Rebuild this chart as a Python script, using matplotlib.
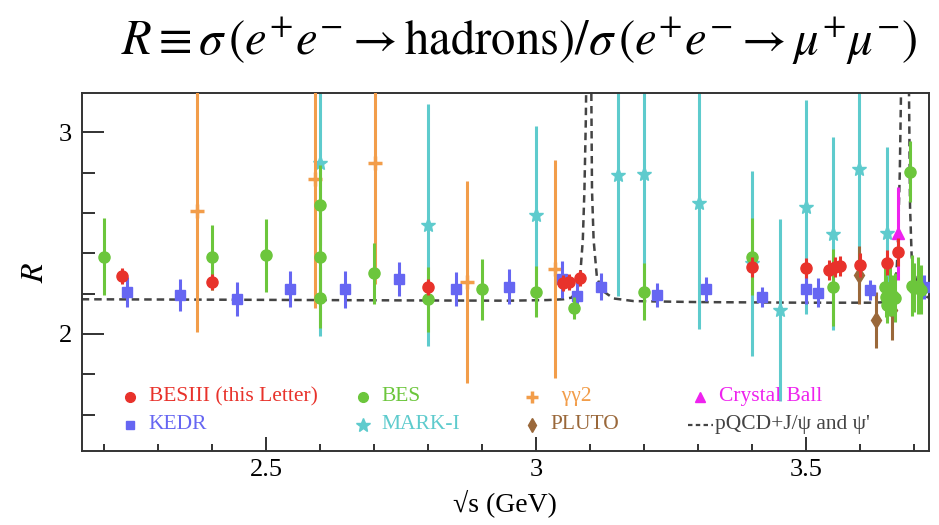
#!/usr/bin/env python3
# -*- coding: utf-8 -*-

import matplotlib
matplotlib.use("Agg")
import matplotlib.pyplot as plt
from matplotlib.ticker import MultipleLocator, FuncFormatter

# ---- data ----
besiii_x = [2.2324, 2.4000, 2.8000, 3.0500, 3.0600, 3.0800, 3.4000, 3.5000,
            3.5424, 3.5538, 3.5620, 3.6000, 3.6490, 3.6690]
besiii_y = [2.287, 2.259, 2.234, 2.254, 2.258, 2.276, 2.330, 2.325,
            2.317, 2.333, 2.337, 2.342, 2.354, 2.405]
besiii_e = [0.04, 0.04, 0.04, 0.04, 0.04, 0.04, 0.05, 0.05,
            0.05, 0.05, 0.05, 0.06, 0.06, 0.07]

bes_x = [2.200, 2.400, 2.500, 2.600, 2.600, 2.600, 2.700, 2.800, 2.900, 3.000,
         3.069, 3.200, 3.400, 3.550, 3.646, 3.648, 3.650, 3.655, 3.660, 3.665,
         3.691, 3.695, 3.700, 3.706, 3.712]
bes_y = [2.383, 2.380, 2.390, 2.640, 2.380, 2.180, 2.300, 2.172, 2.221, 2.210,
         2.127, 2.210, 2.383, 2.231, 2.235, 2.185, 2.144, 2.210, 2.190, 2.180,
         2.805, 2.240, 2.230, 2.240, 2.220]
bes_e = [0.19, 0.16, 0.18, 0.20, 0.20, 0.15, 0.15, 0.16, 0.15, 0.125,
         0.055, 0.14, 0.19, 0.19, 0.10, 0.10, 0.09, 0.12, 0.10, 0.12,
         0.15, 0.15, 0.12, 0.14, 0.12]

kedr_x = [2.241, 2.340, 2.446, 2.544, 2.645, 2.746, 2.851, 2.949, 3.047,
          3.076, 3.119, 3.224, 3.315, 3.418, 3.500, 3.521, 3.618, 3.718]
kedr_y = [2.208, 2.193, 2.172, 2.223, 2.221, 2.271, 2.223, 2.234, 2.270,
          2.188, 2.235, 2.193, 2.221, 2.185, 2.221, 2.205, 2.218, 2.231]
kedr_e = [0.075, 0.08, 0.085, 0.088, 0.09, 0.085, 0.085, 0.087, 0.09,
          0.075, 0.068, 0.06, 0.06, 0.05, 0.07, 0.07, 0.05, 0.06]

mark1_x = [2.600, 2.800, 3.000, 3.152, 3.200, 3.301, 3.400, 3.452,
           3.500, 3.550, 3.598, 3.649]
mark1_y = [2.848, 2.540, 2.589, 2.787, 2.795, 2.647, 2.350, 2.119,
           2.630, 2.498, 2.818, 2.499]
mark1_e = [0.86, 0.60, 0.44, 0.60, 0.60, 0.62, 0.46, 0.45,
           0.53, 0.48, 0.60, 0.43]

gg2_x = [2.371, 2.590, 2.701, 2.871, 3.035]
gg2_y = [2.610, 2.770, 2.848, 2.259, 2.320]
gg2_e = [0.60, 0.64, 0.60, 0.50, 0.54]

pluto_x = [3.598, 3.629, 3.659]
pluto_y = [2.293, 2.069, 2.120]
pluto_e = [0.145, 0.14, 0.15]

cb_x = [3.669]
cb_y = [2.499]
cb_e = [0.23]

# pQCD + J/psi and psi' curve
curve_x = [2.158, 2.40, 2.60, 2.80, 2.95, 3.02, 3.05, 3.065, 3.075, 3.081,
           3.086, 3.089, 3.0915, 3.0935, 3.101, 3.103, 3.106, 3.112, 3.121,
           3.143, 3.18, 3.30, 3.50, 3.62, 3.655, 3.664, 3.669, 3.673, 3.677,
           3.689, 3.692, 3.695, 3.704, 3.714, 3.727]
curve_y = [2.172, 2.170, 2.168, 2.166, 2.165, 2.168, 2.172, 2.180, 2.210, 2.284,
           2.466, 2.714, 3.050, 3.500, 3.500, 2.714, 2.466, 2.284, 2.217,
           2.176, 2.163, 2.158, 2.155, 2.155, 2.158, 2.200, 2.400, 2.800, 3.500,
           3.500, 2.631, 2.383, 2.250, 2.193, 2.180]

# ---- style ----
plt.rcParams['font.family'] = ['Liberation Serif', 'DejaVu Serif']
plt.rcParams['mathtext.fontset'] = 'stix'

c_red = '#e8322b'
c_green = '#6cc63c'
c_blue = '#6666f2'
c_orange = '#f29d4a'
c_cyan = '#5ecbcd'
c_brown = '#9a683a'
c_mag = '#ee22ee'
c_line = '#444444'

fig = plt.figure(figsize=(9.39, 5.25), dpi=100)
ax = fig.add_axes([0.0870, 0.1410, 0.9023, 0.6813])

ax.plot(curve_x, curve_y, color=c_line, lw=1.8, ls=(0, (3, 2)), zorder=1)


def draw(x, y, e, color, marker, ms, z, **kw):
    ax.errorbar(x, y, yerr=e, fmt=marker, color=color, ms=ms, elinewidth=2.2,
                capsize=0, mec=color, zorder=z, **kw)


draw(mark1_x, mark1_y, mark1_e, c_cyan, '*', 11, 2)
draw(gg2_x, gg2_y, gg2_e, c_orange, '+', 10, 3, mew=2.5)
draw(pluto_x, pluto_y, pluto_e, c_brown, 'd', 8, 4)
draw(kedr_x, kedr_y, kedr_e, c_blue, 's', 7, 5)
draw(bes_x, bes_y, bes_e, c_green, 'o', 8, 6)
draw(cb_x, cb_y, cb_e, c_mag, '^', 8, 7)
draw(besiii_x, besiii_y, besiii_e, c_red, 'o', 8, 8)

ax.set_xlim(2.158, 3.727)
ax.set_ylim(1.42, 3.193)

ax.xaxis.set_major_locator(MultipleLocator(0.5))
ax.xaxis.set_minor_locator(MultipleLocator(0.1))
ax.yaxis.set_major_locator(MultipleLocator(1))
ax.yaxis.set_minor_locator(MultipleLocator(0.2))
ax.xaxis.set_major_formatter(FuncFormatter(lambda v, p: '%g' % v))
ax.yaxis.set_major_formatter(FuncFormatter(lambda v, p: '%g' % v))

ax.tick_params(axis='both', which='both', direction='in', color='#222222',
               width=1.3, labelsize=19, top=False, right=False)
ax.tick_params(axis='x', which='major', length=10, pad=6)
ax.tick_params(axis='x', which='minor', length=5)
ax.tick_params(axis='y', which='major', length=16, pad=7)
ax.tick_params(axis='y', which='minor', length=9)
for s in ax.spines.values():
    s.set_linewidth(1.4)
    s.set_color('#333333')

ax.set_xlabel('√s (GeV)', fontsize=20, labelpad=6)
ax.set_ylabel(r'$R$', fontsize=23, labelpad=6)

fig.text(0.553, 0.922,
         r'$R \equiv \sigma\,\left(e^{+}e^{-} \rightarrow \mathrm{hadrons}\right)'
         r'/\sigma\,\left(e^{+}e^{-} \rightarrow \mu^{+}\mu^{-}\right)$',
         fontsize=35, ha='center', va='center')

# ---- hand-placed legend (axes fraction) ----
legend_items = [
    (0.0573, 0.1517, 'o', c_red, 7, 'BESIII (this Letter)'),
    (0.0573, 0.0734, 's', c_blue, 6, 'KEDR'),
    (0.3323, 0.1517, 'o', c_green, 7, 'BES'),
    (0.3323, 0.0734, '*', c_cyan, 10, 'MARK-I'),
    (0.5315, 0.1517, '+', c_orange, 8, '  γγ2'),
    (0.5315, 0.0734, 'd', c_brown, 7, 'PLUTO'),
    (0.7298, 0.1517, '^', c_mag, 7, 'Crystal Ball'),
]
for lx, ly, mk, col, ms, lab in legend_items:
    ax.plot([lx], [ly], marker=mk, color=col, ms=ms, mew=2.5 if mk == '+' else 1,
            transform=ax.transAxes, clip_on=False, zorder=10)
    ax.text(lx + 0.022, ly, lab, color=col, fontsize=15.5, va='center',
            ha='left', transform=ax.transAxes)

ax.plot([0.7155, 0.7455], [0.0734, 0.0734], color=c_line, lw=1.6,
        ls=(0, (2, 1.5)), transform=ax.transAxes)
ax.text(0.7475, 0.0734, "pQCD+J/ψ and ψ'", color=c_line, fontsize=15.5,
        va='center', ha='left', transform=ax.transAxes)

fig.savefig('out.png', dpi=100)
